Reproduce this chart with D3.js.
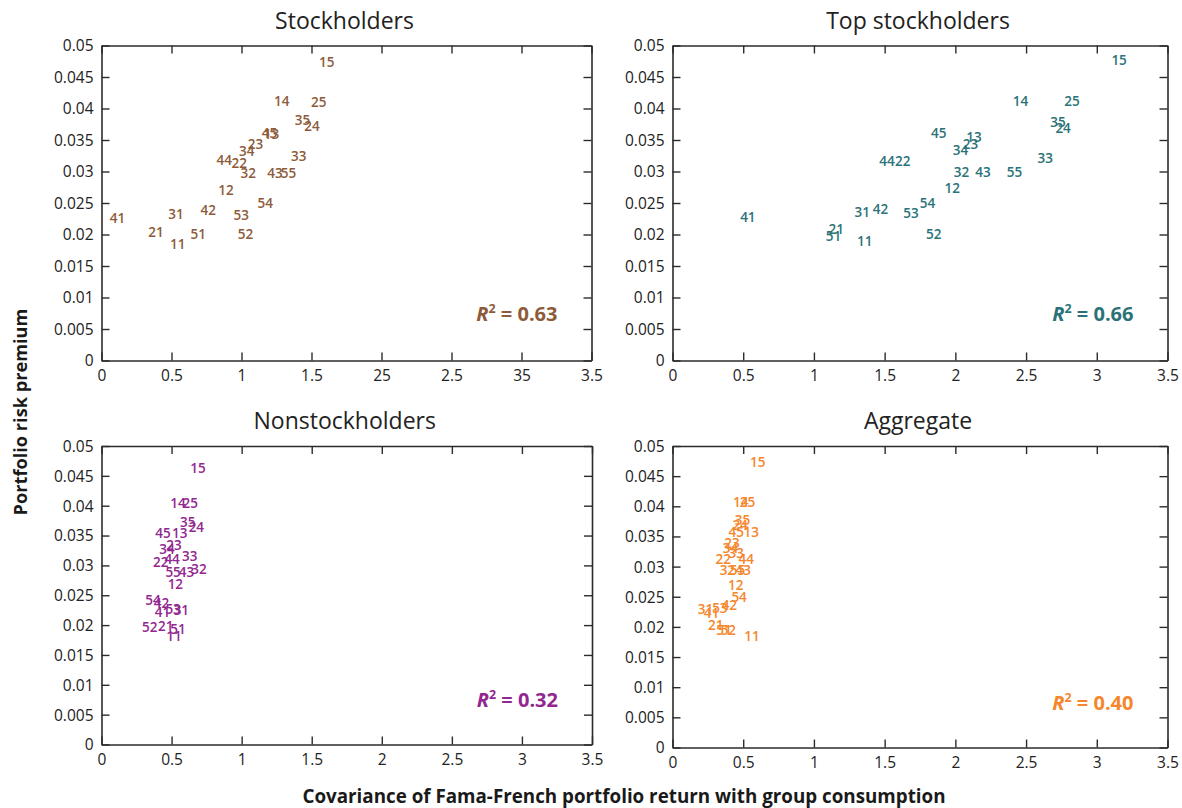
<!DOCTYPE html>
<html>
<head>
<meta charset="utf-8">
<script src="https://cdn.jsdelivr.net/npm/d3@7"></script>
<style>
  html, body { margin: 0; padding: 0; background: #fff; }
  svg { display: block; font-family: "Open Sans", "Noto Sans", sans-serif; }
</style>
</head>
<body>
<svg id="chart" width="1182" height="808"></svg>
<script>
// Fama-French 5x5 portfolios (size quintile, book-to-market quintile)
const portfolios = ["11","12","13","14","15","21","22","23","24","25","31","32","33","34","35",
                    "41","42","43","44","45","51","52","53","54","55"];

// Stockholders
const stockCov  = [0.544,0.889,1.215,1.288,1.609,0.390,0.984,1.100,1.504,1.552,0.532,1.048,1.409,1.038,1.435,
                   0.114,0.763,1.240,0.877,1.200,0.691,1.029,0.998,1.169,1.335];
const stockPrem = [0.0185,0.0270,0.0360,0.0412,0.0474,0.0203,0.0314,0.0343,0.0372,0.0410,0.0233,0.0298,0.0324,0.0333,0.0382,
                   0.0226,0.0239,0.0297,0.0318,0.0361,0.0200,0.0201,0.0231,0.0249,0.0297];

// Top stockholders
const topCov  = [1.360,1.978,2.131,2.460,3.158,1.158,1.628,2.107,2.762,2.825,1.341,2.044,2.635,2.036,2.725,
                 0.533,1.470,2.195,1.516,1.883,1.139,1.847,1.686,1.803,2.418];
const topPrem = [0.0189,0.0273,0.0354,0.0411,0.0476,0.0209,0.0316,0.0344,0.0369,0.0411,0.0235,0.0299,0.0321,0.0334,0.0379,
                 0.0228,0.0240,0.0299,0.0317,0.0361,0.0198,0.0200,0.0234,0.0249,0.0299];

// Nonstockholders
const nonCov  = [0.518,0.527,0.558,0.546,0.689,0.458,0.423,0.518,0.677,0.634,0.570,0.696,0.629,0.468,0.615,
                 0.435,0.428,0.606,0.504,0.439,0.546,0.344,0.511,0.368,0.511];
const nonPrem = [0.0181,0.0269,0.0354,0.0404,0.0463,0.0198,0.0306,0.0334,0.0364,0.0404,0.0225,0.0294,0.0316,0.0328,0.0372,
                 0.0221,0.0236,0.0289,0.0310,0.0354,0.0194,0.0196,0.0226,0.0241,0.0288];

// Aggregate
const aggCov  = [0.562,0.447,0.557,0.483,0.603,0.306,0.359,0.421,0.478,0.531,0.234,0.388,0.450,0.410,0.495,
                 0.275,0.402,0.500,0.522,0.450,0.364,0.395,0.335,0.471,0.460];
const aggPrem = [0.0184,0.0269,0.0357,0.0407,0.0473,0.0203,0.0313,0.0339,0.0368,0.0407,0.0229,0.0294,0.0322,0.0330,0.0377,
                 0.0223,0.0236,0.0294,0.0313,0.0357,0.0194,0.0194,0.0231,0.0249,0.0294];

const panelTitles = ["Stockholders", "Top stockholders", "Nonstockholders", "Aggregate"];
const rSquared    = ["0.63", "0.66", "0.32", "0.40"];
const panelColors = ["#8d5b3a", "#2b7278", "#922790", "#f5862c"];

// x tick labels as printed on each panel
const xTickValues      = [0, 0.5, 1, 1.5, 2, 2.5, 3, 3.5];
const xTickLabelsStock = ["0","0.5","1","1.5","25","2.5","35","3.5"];
const xTickLabelsStd   = ["0","0.5","1","1.5","2","2.5","3","3.5"];
const yTickValues = [0,0.005,0.01,0.015,0.02,0.025,0.03,0.035,0.04,0.045,0.05];
const yTickLabels = ["0","0.005","0.01","0.015","0.02","0.025","0.03","0.035","0.04","0.045","0.05"];

const panels = [
  { title: panelTitles[0], cov: stockCov, prem: stockPrem, r2: rSquared[0], color: panelColors[0], xLabels: xTickLabelsStock,
    box: { left: 101.5, right: 591.5, top: 45.5, bottom: 360.5 } },
  { title: panelTitles[1], cov: topCov, prem: topPrem, r2: rSquared[1], color: panelColors[1], xLabels: xTickLabelsStd,
    box: { left: 672.5, right: 1167.5, top: 45.5, bottom: 360.5 } },
  { title: panelTitles[2], cov: nonCov, prem: nonPrem, r2: rSquared[2], color: panelColors[2], xLabels: xTickLabelsStd,
    box: { left: 101.5, right: 592, top: 446, bottom: 744.5 } },
  { title: panelTitles[3], cov: aggCov, prem: aggPrem, r2: rSquared[3], color: panelColors[3], xLabels: xTickLabelsStd,
    box: { left: 672.5, right: 1167.5, top: 446, bottom: 747.5 } }
];

const svg = d3.select("#chart");
const axisColor = "#2b2b2b";
const tickLen = 8;

panels.forEach(p => {
  const b = p.box;
  const x = d3.scaleLinear().domain([0, 3.5]).range([b.left, b.right]);
  const y = d3.scaleLinear().domain([0, 0.05]).range([b.bottom, b.top]);
  const g = svg.append("g");

  // bottom axis: inward ticks, labels below
  const bottom = g.append("g").attr("transform", `translate(0,${b.bottom})`)
    .call(d3.axisBottom(x).tickValues(xTickValues).tickSizeInner(-tickLen).tickSizeOuter(0)
      .tickPadding(9).tickFormat((d, i) => p.xLabels[i]));
  // left axis: inward ticks, labels to the left
  const left = g.append("g").attr("transform", `translate(${b.left},0)`)
    .call(d3.axisLeft(y).tickValues(yTickValues).tickSizeInner(-tickLen).tickSizeOuter(0)
      .tickPadding(8).tickFormat((d, i) => yTickLabels[i]));
  // top and right: ticks only
  const top = g.append("g").attr("transform", `translate(0,${b.top})`)
    .call(d3.axisTop(x).tickValues(xTickValues).tickSizeInner(-tickLen).tickSizeOuter(0).tickFormat(""));
  const right = g.append("g").attr("transform", `translate(${b.right},0)`)
    .call(d3.axisRight(y).tickValues(yTickValues).tickSizeInner(-tickLen).tickSizeOuter(0).tickFormat(""));

  [bottom, left, top, right].forEach(a => {
    a.select(".domain").attr("stroke", axisColor).attr("stroke-width", 1.6);
    a.selectAll(".tick line").attr("stroke", axisColor).attr("stroke-width", 1.4);
    a.selectAll(".tick text").attr("fill", "#222").attr("font-size", 15.5)
      .attr("font-family", "\"Open Sans\", \"Noto Sans\", sans-serif");
  });
  left.selectAll(".tick text").attr("dy", "0.35em");

  // panel title
  g.append("text")
    .attr("x", (b.left + b.right) / 2 - 2)
    .attr("y", b.top - 17)
    .attr("text-anchor", "middle")
    .attr("font-size", 23)
    .attr("fill", "#222")
    .text(p.title);

  // portfolio labels placed at (covariance, premium)
  g.append("g").selectAll("text")
    .data(portfolios.map((name, i) => ({ name, cov: p.cov[i], prem: p.prem[i] })))
    .join("text")
      .attr("x", d => x(d.cov))
      .attr("y", d => y(d.prem))
      .attr("dy", "0.36em")
      .attr("text-anchor", "middle")
      .attr("font-size", 13.5)
      .attr("font-weight", 600)
      .attr("fill", p.color)
      .text(d => d.name);

  // R-squared annotation
  const r2 = g.append("text")
    .attr("x", b.right - 34)
    .attr("y", y(0.0063))
    .attr("text-anchor", "end")
    .attr("font-size", 20)
    .attr("font-weight", 700)
    .attr("fill", p.color);
  r2.append("tspan").attr("font-style", "italic").text("R");
  r2.append("tspan").attr("font-size", 12.5).attr("dy", -8).text("2");
  r2.append("tspan").attr("dy", 8).text(" = " + p.r2);
});

// shared axis titles
svg.append("text")
  .attr("transform", "translate(27,412) rotate(-90)")
  .attr("text-anchor", "middle")
  .attr("font-size", 18.2)
  .attr("font-weight", 700)
  .attr("fill", "#1a1a1a")
  .text("Portfolio risk premium");

svg.append("text")
  .attr("x", 624)
  .attr("y", 803)
  .attr("text-anchor", "middle")
  .attr("font-size", 18.8)
  .attr("font-weight", 700)
  .attr("fill", "#1a1a1a")
  .text("Covariance of Fama-French portfolio return with group consumption");
</script>
</body>
</html>
